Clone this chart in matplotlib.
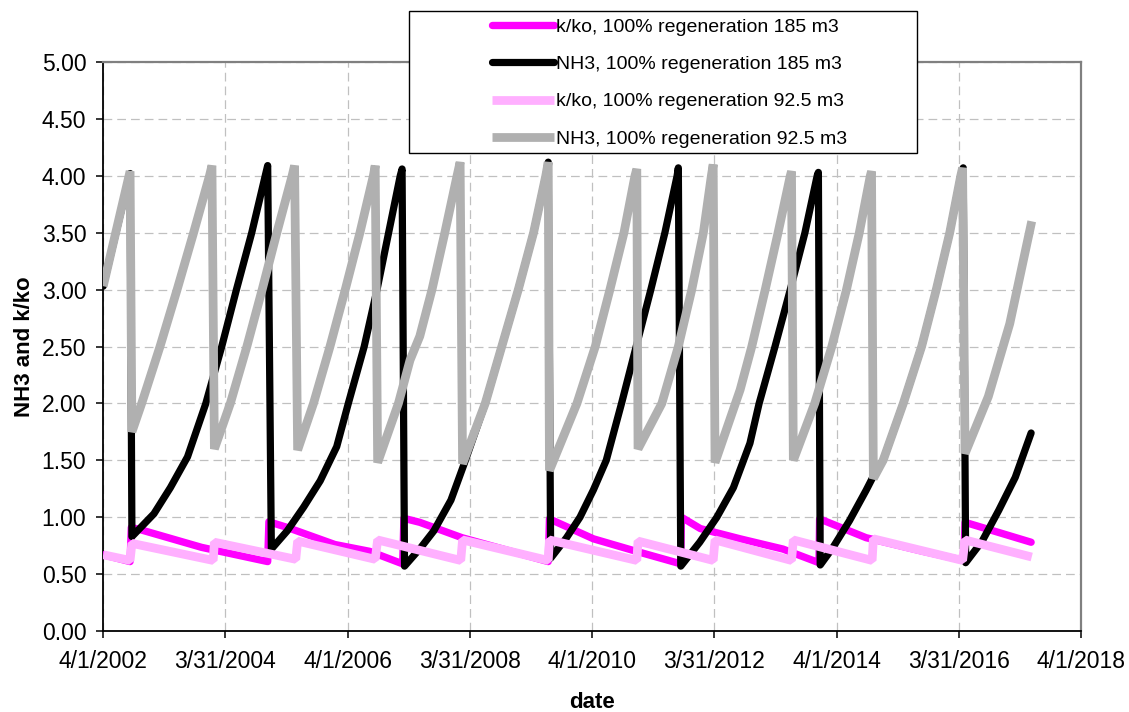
import matplotlib
matplotlib.use("Agg")
import matplotlib.pyplot as plt
from matplotlib.patches import Rectangle
from datetime import datetime

plt.rcParams['font.family'] = ['Liberation Sans', 'DejaVu Sans']

# ---------------- data (decimal years) ----------------
kko185_t = [2002.25, 2002.69, 2002.71, 2002.86, 2003.86, 2004.94, 2004.96, 2005.26, 2006.04,
            2006.61, 2007.15, 2007.17, 2007.43, 2008.12, 2009.53, 2009.55, 2010.27, 2010.94,
            2011.70, 2011.71, 2012.02, 2012.67, 2013.37, 2013.96, 2013.97, 2014.73, 2015.66,
            2016.33, 2016.35, 2017.43]
kko185_v = [0.67, 0.61, 0.91, 0.89, 0.735, 0.61, 0.96, 0.91, 0.76,
            0.70, 0.59, 0.99, 0.955, 0.82, 0.61, 0.985, 0.81, 0.705,
            0.59, 1.00, 0.90, 0.81, 0.72, 0.60, 0.985, 0.82, 0.70,
            0.62, 0.955, 0.78]

nh3185_t = [2002.25, 2002.69, 2002.72, 2003.08, 2003.35, 2003.63, 2003.93, 2004.19, 2004.43,
            2004.68, 2004.90, 2004.94, 2005.00, 2005.26, 2005.53, 2005.80, 2006.07, 2006.26,
            2006.52, 2006.73, 2006.92, 2007.11, 2007.14, 2007.18, 2007.45, 2007.66, 2007.94,
            2008.15, 2008.50, 2008.77, 2009.04, 2009.29, 2009.49, 2009.53, 2009.57, 2009.83,
            2010.05, 2010.27, 2010.48, 2010.73, 2010.97, 2011.21, 2011.44, 2011.64, 2011.66,
            2011.70, 2012.01, 2012.29, 2012.56, 2012.83, 2012.98, 2013.24, 2013.49, 2013.73,
            2013.93, 2013.95, 2013.98, 2014.19, 2014.46, 2014.73, 2014.84, 2015.01, 2015.34,
            2015.64, 2015.88, 2016.10, 2016.28, 2016.32, 2016.36, 2016.63, 2016.90, 2017.17,
            2017.43]
nh3185_v = [3.03, 4.02, 0.83, 1.03, 1.26, 1.53, 2.00, 2.50, 3.00,
            3.50, 4.00, 4.09, 0.72, 0.88, 1.09, 1.32, 1.62, 2.00,
            2.50, 3.00, 3.50, 4.00, 4.06, 0.57, 0.735, 0.88, 1.15,
            1.46, 2.00, 2.50, 3.00, 3.50, 4.00, 4.12, 0.64, 0.82,
            1.00, 1.24, 1.50, 2.00, 2.50, 3.00, 3.50, 4.00, 4.07,
            0.57, 0.78, 1.00, 1.26, 1.65, 2.00, 2.50, 3.00, 3.50,
            4.00, 4.03, 0.58, 0.735, 0.97, 1.235, 1.35, 1.50, 2.00,
            2.50, 3.00, 3.50, 4.00, 4.07, 0.60, 0.79, 1.06, 1.35,
            1.74]

kko92_t = [2002.25, 2002.69, 2002.72, 2004.05, 2004.07, 2005.40, 2005.43, 2006.70, 2006.74,
           2008.10, 2008.13, 2009.53, 2009.55, 2010.98, 2011.00, 2012.23, 2012.26, 2013.51,
           2013.54, 2014.83, 2014.85, 2016.31, 2016.35, 2017.44]
kko92_v = [0.67, 0.62, 0.77, 0.62, 0.78, 0.63, 0.79, 0.63, 0.80,
           0.62, 0.80, 0.62, 0.80, 0.62, 0.79, 0.62, 0.80, 0.62,
           0.80, 0.62, 0.81, 0.62, 0.80, 0.65]

nh392_t = [2002.25, 2002.69, 2002.72, 2002.88, 2003.18, 2003.46, 2003.73, 2003.99, 2004.03,
           2004.07, 2004.33, 2004.60, 2004.85, 2005.09, 2005.34, 2005.38, 2005.43, 2005.69,
           2005.96, 2006.21, 2006.45, 2006.67, 2006.70, 2006.74, 2007.08, 2007.27, 2007.43,
           2007.63, 2007.84, 2008.04, 2008.09, 2008.13, 2008.50, 2008.77, 2009.04, 2009.29,
           2009.49, 2009.53, 2009.55, 2010.00, 2010.30, 2010.54, 2010.77, 2010.95, 2010.98,
           2011.00, 2011.39, 2011.66, 2011.88, 2012.07, 2012.20, 2012.23, 2012.26, 2012.67,
           2012.86, 2013.08, 2013.29, 2013.49, 2013.51, 2013.54, 2013.89, 2014.17, 2014.41,
           2014.62, 2014.80, 2014.82, 2014.85, 2015.01, 2015.34, 2015.64, 2015.88, 2016.10,
           2016.28, 2016.31, 2016.35, 2016.73, 2017.08, 2017.44]
nh392_v = [3.03, 4.04, 1.75, 2.00, 2.50, 3.00, 3.50, 4.00, 4.09,
           1.60, 2.00, 2.50, 3.00, 3.50, 4.00, 4.09, 1.59, 2.00,
           2.50, 3.00, 3.50, 4.00, 4.09, 1.48, 2.00, 2.38, 2.59,
           3.00, 3.50, 4.00, 4.12, 1.47, 2.00, 2.50, 3.00, 3.50,
           4.00, 4.12, 1.41, 2.00, 2.50, 3.00, 3.50, 4.00, 4.06,
           1.60, 2.00, 2.50, 3.00, 3.50, 4.00, 4.10, 1.48, 2.12,
           2.50, 3.00, 3.50, 4.00, 4.04, 1.50, 2.00, 2.50, 3.00,
           3.50, 4.00, 4.04, 1.34, 1.50, 2.00, 2.50, 3.00, 3.50,
           4.00, 4.07, 1.56, 2.06, 2.70, 3.60]

series_labels = ["k/ko, 100% regeneration 185 m3",
                 "NH3, 100% regeneration 185 m3",
                 "k/ko, 100% regeneration 92.5 m3",
                 "NH3, 100% regeneration 92.5 m3"]
x_tick_labels = ["4/1/2002", "3/31/2004", "4/1/2006", "3/31/2008", "4/1/2010",
                 "3/31/2012", "4/1/2014", "3/31/2016", "4/1/2018"]
y_ticks = [0.0, 0.5, 1.0, 1.5, 2.0, 2.5, 3.0, 3.5, 4.0, 4.5, 5.0]


def to_dt(y):
    yr = int(y)
    a = datetime(yr, 1, 1)
    b = datetime(yr + 1, 1, 1)
    return a + (b - a) * (y - yr)


fig = plt.figure(figsize=(11.29, 7.12), dpi=100)
ax = fig.add_axes([103 / 1129, 1 - 631 / 712, (1081 - 103) / 1129, (631 - 62) / 712])

l1, = ax.plot([to_dt(t) for t in kko185_t], kko185_v, color='#FF00FF', lw=5.3,
              solid_joinstyle='round', solid_capstyle='round', zorder=3)
l2, = ax.plot([to_dt(t) for t in nh3185_t], nh3185_v, color='#000000', lw=5.2,
              solid_joinstyle='round', solid_capstyle='round', zorder=4)
l3, = ax.plot([to_dt(t) for t in kko92_t], kko92_v, color='#FFB0FF', lw=6.3,
              solid_joinstyle='bevel', solid_capstyle='butt', zorder=5)
l4, = ax.plot([to_dt(t) for t in nh392_t], nh392_v, color='#B0B0B0', lw=6.3,
              solid_joinstyle='bevel', solid_capstyle='butt', zorder=6)

tick_dates = [datetime.strptime(s, "%m/%d/%Y") for s in x_tick_labels]
ax.set_xlim(tick_dates[0], tick_dates[-1])
ax.set_xticks(tick_dates)
ax.set_xticklabels(x_tick_labels)
ax.set_ylim(0, 5)
ax.set_yticks(y_ticks)
ax.set_yticklabels(["%.2f" % v for v in y_ticks])

ax.grid(True, which='major', color='#C0C0C0', lw=0.9, linestyle=(0, (7, 4)))
ax.set_axisbelow(True)

ax.tick_params(axis='both', direction='out', length=5, width=1.1, labelsize=16.5, colors='black')
ax.tick_params(axis='y', pad=7)
ax.tick_params(axis='x', pad=9)

for s in ['left', 'bottom']:
    ax.spines[s].set_color('black')
    ax.spines[s].set_linewidth(1.3)
for s in ['top', 'right']:
    ax.spines[s].set_color('#808080')
    ax.spines[s].set_linewidth(1.6)

ax.set_ylabel("NH3 and k/ko", fontsize=16, fontweight='bold')
ax.yaxis.set_label_coords((35 - 103) / 978, 0.5)
ax.set_xlabel("date", fontsize=16, fontweight='bold')
ax.xaxis.set_label_coords(0.5, -(692 - 631) / 569)

# legend frame + legend
frame = Rectangle((409 / 1129, 1 - 153 / 712), 508 / 1129, 142 / 712,
                  transform=fig.transFigure, facecolor='white', edgecolor='black',
                  lw=1.0, zorder=10)
fig.patches.append(frame)
leg = fig.legend([l1, l2, l3, l4], series_labels, loc='upper left',
                 bbox_to_anchor=(492 / 1129, 1 - 18 / 712), bbox_transform=fig.transFigure,
                 frameon=False, handlelength=3.2, handletextpad=0.1,
                 labelspacing=1.02, borderpad=0, borderaxespad=0,
                 prop={'family': ['Liberation Sans', 'DejaVu Sans'], 'size': 14})
leg.set_zorder(11)

fig.savefig("out.png", dpi=100)
